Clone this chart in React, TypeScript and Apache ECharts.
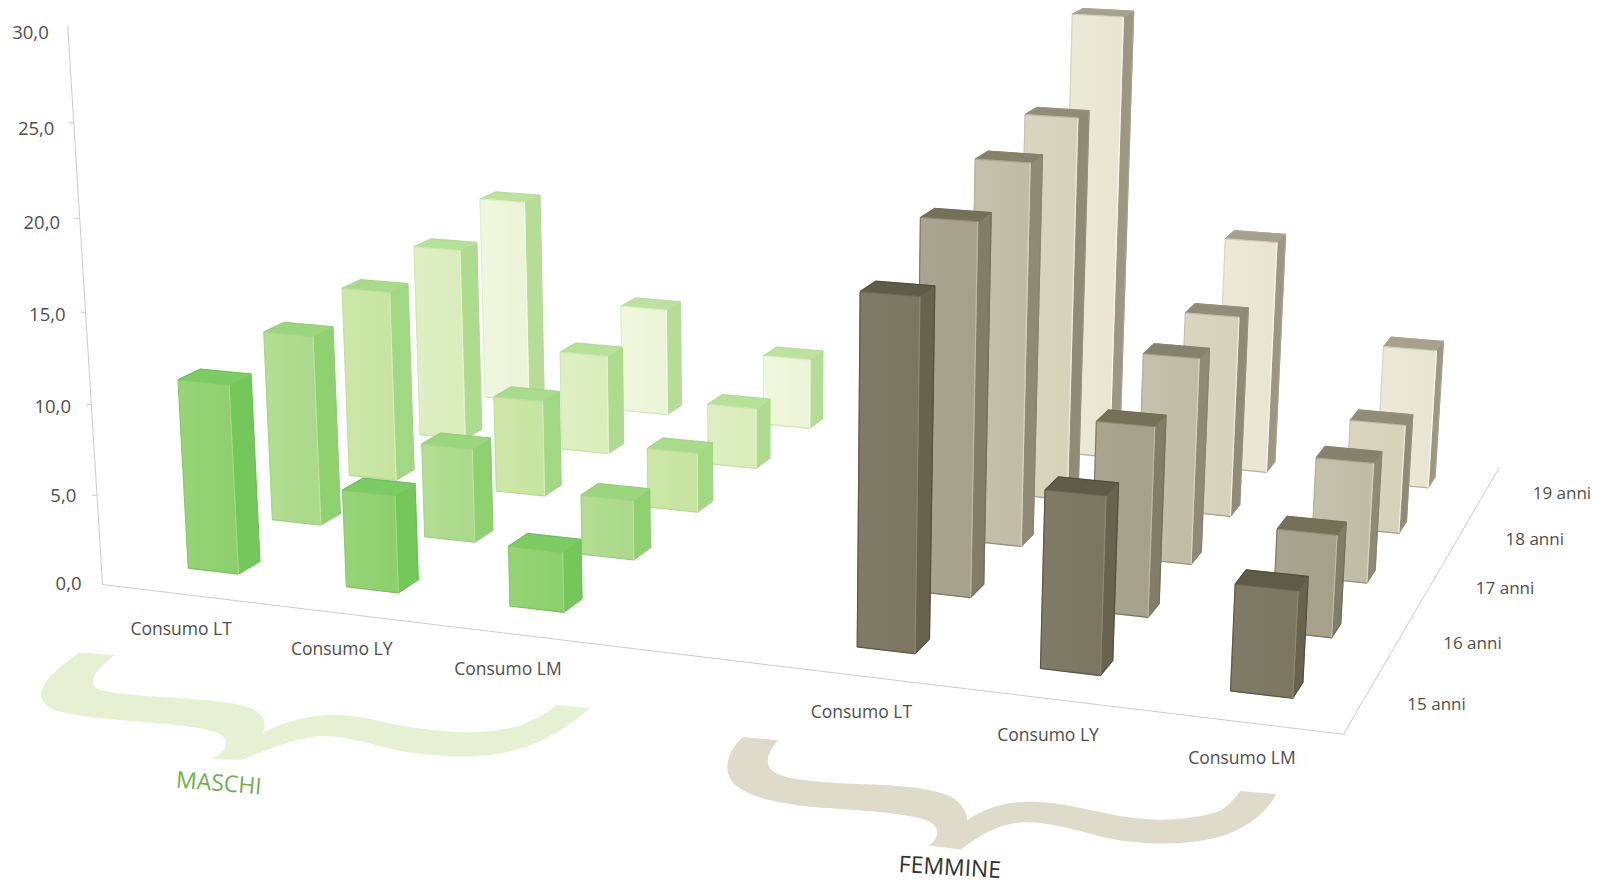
import React, { useEffect, useRef } from "react";
import * as echarts from "echarts";

// ---- data ----
const categories = ["Consumo LT", "Consumo LY", "Consumo LM", "Consumo LT", "Consumo LY", "Consumo LM"];
const ages = ["15 anni", "16 anni", "17 anni", "18 anni", "19 anni"];
const yTicks = [0, 5, 10, 15, 20, 25, 30];
const maschiLT = [10.6, 11.0, 11.4, 11.9, 13.0];
const maschiLY = [5.4, 5.4, 5.7, 6.1, 6.8];
const maschiLM = [3.3, 3.4, 3.5, 3.7, 4.4];
const femmineLT = [18.5, 20.3, 21.6, 22.4, 26.7];
const femmineLY = [9.3, 10.3, 11.6, 11.7, 14.0];
const femmineLM = [5.5, 5.5, 6.7, 6.3, 8.3];
const columns = [maschiLT, maschiLY, maschiLM, femmineLT, femmineLY, femmineLM];

// face colours per age: [front-left, front-right, side, top, edge, highlight]
const greens = [
  ["#97d477", "#8ccf6c", "#74c75b", "#7ccb63", "#66b553", "#a3da85"],
  ["#b3dd93", "#aad98a", "#8fd070", "#9bd57d", "#8cc872", "#c0e3a3"],
  ["#cde7a8", "#c6e4a0", "#a1d883", "#a9db8c", "#a0d186", "#d8edbb"],
  ["#dfefc3", "#d9ecba", "#aedc8f", "#b6e199", "#aed694", "#e8f4d3"],
  ["#f0f7df", "#ebf4d5", "#b5dd95", "#bde19e", "#b5d99a", "#f6fbea"],
];
const greys = [
  ["#7f7b67", "#7a7661", "#67634f", "#5f5b49", "#4f4b3a", "#8f8b77"],
  ["#a9a590", "#a4a08a", "#817d68", "#757159", "#6f6b56", "#c0bca8"],
  ["#c5c1ac", "#bfbba5", "#8e8a75", "#85816c", "#86826d", "#dcd8c6"],
  ["#dad6c0", "#d5d1ba", "#8f8b76", "#908c77", "#96927d", "#f4f1e2"],
  ["#ecead8", "#e7e5d1", "#9b9783", "#a5a18d", "#a8a490", "#faf9ee"],
];

// ---- perspective set-up (square floor -> picture, vertical vanishing point) ----
const K = 1608 / 1568;
const floorA = [100 * K, 570 * K];
const floorB = [1310 * K, 716 * K];
const floorC = [1462 * K, 456 * K];
const floorD = [470 * K, 363 * K];
const vanish = [750 * K, 11000 * K];
const heightScale = -0.0016553;

const dx1 = floorB[0] - floorC[0];
const dx2 = floorD[0] - floorC[0];
const sx = floorA[0] - floorB[0] + floorC[0] - floorD[0];
const dy1 = floorB[1] - floorC[1];
const dy2 = floorD[1] - floorC[1];
const sy = floorA[1] - floorB[1] + floorC[1] - floorD[1];
const det = dx1 * dy2 - dx2 * dy1;
const g = (sx * dy2 - dx2 * sy) / det;
const h = (dx1 * sy - sx * dy1) / det;
const a = floorB[0] - floorA[0] + g * floorB[0];
const b = floorD[0] - floorA[0] + h * floorD[0];
const d = floorB[1] - floorA[1] + g * floorB[1];
const e = floorD[1] - floorA[1] + h * floorD[1];

function project(u: number, v: number, value: number): number[] {
  const q = value * heightScale;
  const W = g * u + h * v + 1 + q;
  return [
    (a * u + b * v + floorA[0] + q * vanish[0]) / W,
    (d * u + e * v + floorA[1] + q * vanish[1]) / W,
  ];
}

const colU = [0.043, 0.186, 0.329, 0.617, 0.761, 0.905];
const rowV = (r: number) => 0.085 + 0.199 * r;
const BAR_U = 0.046;
const BAR_V = 0.05;

const barData: number[][] = [];
for (let r = ages.length - 1; r >= 0; r--) {
  columns.forEach((vals, c) => barData.push([c, r, vals[r]]));
}

function renderBar(_p: any, api: any) {
  const c = api.value(0);
  const r = api.value(1);
  const val = api.value(2);
  const male = c < 3;
  const pal = (male ? greens : greys)[r];
  const u0 = colU[c];
  const u1 = u0 + BAR_U;
  const v0 = rowV(r);
  const v1 = v0 + BAR_V;
  const poly = (points: number[][], fill: any, stroke: string) => ({
    type: "polygon",
    shape: { points },
    style: { fill, stroke, lineWidth: 1, lineJoin: "round" },
  });
  const edge = (points: number[][], stroke: string, opacity: number) => ({
    type: "polyline",
    shape: { points },
    style: { fill: "none", stroke, lineWidth: 1.2, opacity, lineJoin: "round" },
  });
  const fl0 = project(u0, v0, 0);
  const fr0 = project(u1, v0, 0);
  const br0 = project(u1, v1, 0);
  const fl1 = project(u0, v0, val);
  const fr1 = project(u1, v0, val);
  const br1 = project(u1, v1, val);
  const bl1 = project(u0, v1, val);
  return {
    type: "group",
    children: [
      poly([fr0, br0, br1, fr1], pal[2], pal[2]),
      poly([fl1, fr1, br1, bl1], pal[3], pal[3]),
      poly(
        [fl0, fr0, fr1, fl1],
        new echarts.graphic.LinearGradient(0, 0, 1, 0, [
          { offset: 0, color: pal[0] },
          { offset: 1, color: pal[1] },
        ]),
        pal[1]
      ),
      edge([fl1, bl1, br1, br0, fr0, fl0], pal[4], male ? 0.55 : 0.8),
      edge([fl0, fl1], pal[4], male ? 0.2 : r < 2 ? 0.7 : 0.25),
      edge([fl1, fr1], pal[4], male ? 0.2 : 0.35),
      edge([fr0, fr1], pal[5], 0.9),
    ],
  };
}

const AXIS = "#cbcbcb";
const LABEL = "#4f4f49";
const FONT = "'Open Sans', sans-serif";

function label(x: number, y: number, text: string, align: string, size: number) {
  return {
    type: "text",
    x,
    y,
    style: {
      text,
      fill: LABEL,
      font: `${size}px ${FONT}`,
      fontSize: size,
      fontFamily: FONT,
      align,
      textAlign: align,
      verticalAlign: "middle",
      textVerticalAlign: "middle",
    },
  };
}

function renderYTick(_p: any, api: any) {
  const t = api.value(0);
  const p = project(0, 0, t);
  const children: any[] = [
    label(p[0] - 21 + t / 15, p[1] - 2 + t * 0.25, t.toFixed(1).replace(".", ","), "right", 18.5),
  ];
  if (t > 0 && t < 30) {
    children.push({
      type: "line",
      shape: { x1: p[0] - 5, y1: p[1], x2: p[0], y2: p[1] },
      style: { stroke: AXIS, lineWidth: 1 },
    });
  }
  return { type: "group", children };
}

function renderCategory(_p: any, api: any) {
  const c = api.value(0);
  const p = project(colU[c] + BAR_U / 2, 0, 0);
  return label(p[0] + 7 - p[0] * 0.0065, p[1] + 35, categories[c], "center", 17.5);
}

function renderAge(_p: any, api: any) {
  const r = api.value(0);
  const p = project(1, rowV(r) + BAR_V / 2, 0);
  return label(p[0] + 72 + r * 0.6, p[1] + 5, ages[r], "center", 17);
}

function renderFrame() {
  const top = project(0, 0, 30);
  const end = project(1, 1, 0);
  return {
    type: "polyline",
    shape: { points: [top, floorA, floorB, end] },
    style: { stroke: AXIS, lineWidth: 1, fill: "none" },
  };
}

const braceMaschi =
  "M195,160 L280,168 C245,205 220,235 230,262 C245,285 330,290 450,300 C540,308 610,315 635,345 C655,370 650,395 640,410 C670,385 730,355 810,350 C900,350 960,385 1050,395 C1140,410 1220,405 1280,380 C1320,360 1345,340 1365,320 L1445,330 C1400,380 1340,430 1270,455 C1190,485 1100,480 1000,465 C930,450 860,415 790,415 C720,420 650,460 590,488 L520,485 C545,470 560,445 552,425 C540,395 480,385 350,372 C250,360 170,355 125,330 C85,300 100,265 125,230 C150,200 170,180 195,160 Z";
const braceFemmine =
  "M105,172 L192,182 C170,210 160,240 170,265 C190,300 270,308 400,315 C500,318 590,330 625,360 C650,385 655,410 655,425 C680,400 730,370 800,368 C880,365 950,395 1050,415 C1130,430 1220,420 1275,395 C1300,375 1315,350 1325,335 L1412,345 C1390,400 1340,450 1270,475 C1190,500 1090,498 1010,480 C940,462 870,430 800,430 C730,430 680,475 640,512 L560,500 C585,480 590,450 565,430 C530,405 420,395 290,385 C190,375 100,350 75,300 C55,260 75,205 105,172 Z";
echarts.graphic.registerShape("braceMaschi", echarts.graphic.extendPath(braceMaschi, {}) as any);
echarts.graphic.registerShape("braceFemmine", echarts.graphic.extendPath(braceFemmine, {}) as any);

export default function App() {
  const ref = useRef<HTMLDivElement>(null);
  useEffect(() => {
    document.body.style.margin = "0";
    document.body.style.overflow = "hidden";
    const chart = echarts.init(ref.current!, null, { renderer: "svg" });
    const none = { coordinateSystem: "none", silent: true };
    chart.setOption({
      animation: false,
      backgroundColor: "#ffffff",
      graphic: [
        {
          type: "braceMaschi",
          x: 0,
          y: 600,
          scaleX: 1 / 2.45,
          scaleY: 1 / 3.05,
          style: { fill: "#e6f1d3" },
        },
        {
          type: "braceFemmine",
          x: 700,
          y: 680,
          scaleX: 1 / 2.45,
          scaleY: 1 / 3.02,
          style: { fill: "#dedbca" },
        },
        {
          type: "text",
          x: 219,
          y: 782,
          rotation: -0.08,
          style: {
            text: "MASCHI",
            fill: "#6fae4c",
            font: `23px ${FONT}`,
            fontSize: 23,
            fontFamily: FONT,
            align: "center",
            textAlign: "center",
            verticalAlign: "middle",
            textVerticalAlign: "middle",
          },
        },
        {
          type: "text",
          x: 950,
          y: 866,
          rotation: -0.06,
          style: {
            text: "FEMMINE",
            fill: "#33332e",
            font: `23px ${FONT}`,
            fontSize: 23,
            fontFamily: FONT,
            align: "center",
            textAlign: "center",
            verticalAlign: "middle",
            textVerticalAlign: "middle",
          },
        },
      ],
      series: [
        { type: "custom", ...none, data: [[0]], renderItem: renderFrame },
        { type: "custom", ...none, data: yTicks.map((t) => [t]), renderItem: renderYTick },
        { type: "custom", ...none, data: categories.map((_, i) => [i]), renderItem: renderCategory },
        { type: "custom", ...none, data: ages.map((_, i) => [i]), renderItem: renderAge },
        { type: "custom", ...none, data: barData, renderItem: renderBar },
      ],
    } as any);
    return () => chart.dispose();
  }, []);
  return <div ref={ref} style={{ width: 1608, height: 888 }} />;
}
